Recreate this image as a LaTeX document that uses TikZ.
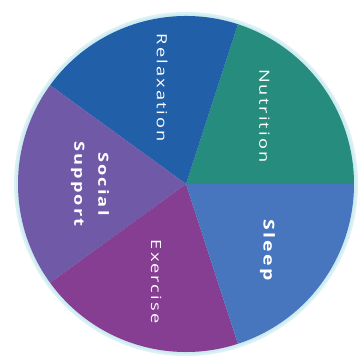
\documentclass[tikz,border=0pt]{standalone}
\usepackage{fontspec}
\setmainfont{Open Sans}
\usepackage{tikz}
\usetikzlibrary{positioning}
\newfontfamily\labelfont[FakeStretch=1.3, LetterSpace=15]{Open Sans}
\definecolor{relaxblue}{RGB}{33,96,168}
\definecolor{nutrigreen}{RGB}{38,140,126}
\definecolor{sleepblue}{RGB}{72,118,190}
\definecolor{exerpurple}{RGB}{134,62,146}
\definecolor{socialviolet}{RGB}{112,90,168}
\definecolor{haloteal}{RGB}{150,215,225}

\begin{document}
\begin{tikzpicture}[
  x=1pt, y=1pt,
  lbl/.style={
    text=white, rotate=-90, align=center, inner sep=0pt,
    font=\labelfont\fontsize{14}{24}\selectfont
  },
  lblbold/.style={
    lbl, font=\labelfont\bfseries\fontsize{14}{24}\selectfont
  }
]
  \useasboundingbox (0,0) rectangle (362,361);
  \coordinate (c) at (186,177);

  % soft rim round the pie
  \fill[haloteal, opacity=0.35] (c) circle[radius=172];
  \fill[haloteal!60, opacity=0.5] (c) circle[radius=170];

  % slices
  \foreach \a/\b/\col in {0/72/nutrigreen, 72/144/relaxblue,
      144/216/socialviolet, 216/288/exerpurple, 288/360/sleepblue} {
    \fill[\col] (c) -- ++(\a:168) arc[start angle=\a, end angle=\b, radius=168] -- cycle;
  }

  \node[lbl]     (relax) at ([shift={(104:99)}]c)  {Relaxation};
  \node[lbl]     (nutri) at ([shift={(41:104)}]c)  {Nutrition};
  \node[lblbold, font=\labelfont\bfseries\fontsize{15}{24}\selectfont]
                 (sleep) at ([shift={(-39:105)}]c) {Sleep};
  \node[lbl]     (exer)  at ([shift={(253:102)}]c) {Exercise};
  \node[lblbold] (soc)   at ([shift={(180:96)}]c)  {Social\\Support};
\end{tikzpicture}
\end{document}
